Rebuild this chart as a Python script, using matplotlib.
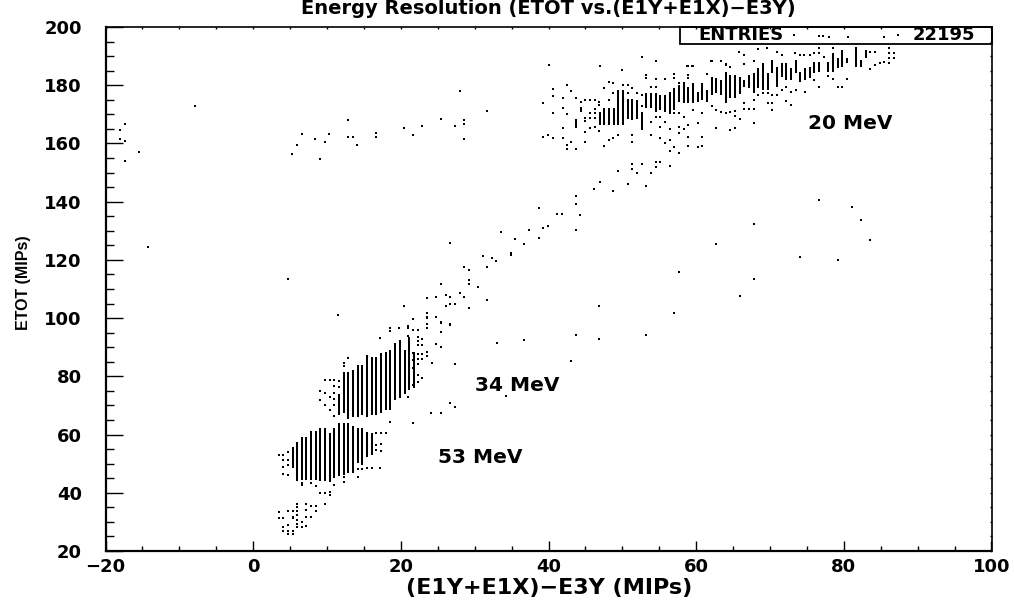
# Energy resolution scatter, ETOT vs (E1Y+E1X)-E3Y
import matplotlib
matplotlib.use('Agg')
import matplotlib.pyplot as plt
from matplotlib.patches import Rectangle
from matplotlib.ticker import MultipleLocator

# Filled columns of the 53 MeV band
low_x  = [5.36, 5.95, 6.58, 7.22, 7.85, 8.48, 9.11, 9.75, 10.38, 11.01, 11.64, 12.27, 12.91, 13.54, 14.17, 14.80, 15.44, 16.07]
low_lo = [48.4, 44.9, 44.4, 44.4, 44.4, 44.4, 44.0, 44.0, 43.8, 45.0, 45.7, 46.1, 46.7, 46.7, 50.1, 49.5, 52.4, 53.0]
low_hi = [55.8, 57.5, 59.3, 59.0, 61.3, 61.3, 62.1, 62.1, 60.6, 62.1, 63.8, 63.8, 63.8, 62.9, 62.1, 62.1, 61.0, 60.4]

# Filled columns of the 34 MeV band
mid_x  = [11.64, 12.27, 12.91, 13.54, 14.17, 14.80, 15.44, 16.07, 16.70, 17.33, 17.97, 18.60, 19.23, 19.86, 20.50, 21.13, 21.76]
mid_lo = [66.7, 67.3, 65.5, 66.1, 66.1, 66.7, 66.1, 66.7, 66.7, 67.3, 68.4, 68.4, 71.8, 72.4, 74.1, 75.3, 75.9]
mid_hi = [74.1, 81.6, 81.6, 82.2, 83.9, 83.9, 87.3, 86.5, 86.5, 87.9, 88.5, 89.0, 91.3, 92.5, 89.0, 93.6, 88.5]

# Filled columns of the 20 MeV band
top_x  = [43.75, 44.38, 46.92, 47.55, 48.18, 48.81, 49.44, 50.08, 50.71, 51.34, 51.97, 52.61, 53.24, 53.87, 54.50, 55.14,
          55.77, 56.40, 57.03, 57.67, 58.30, 58.93, 59.56, 60.20, 60.83, 61.46, 62.09, 62.72, 63.36, 63.99, 64.62, 65.25,
          65.88, 66.52, 67.15, 67.78, 68.41, 69.05, 69.68, 70.31, 70.94, 71.58, 72.21, 72.84, 73.47, 74.11, 74.74, 75.37,
          76.00, 76.64, 77.90, 78.53, 79.17, 79.80, 80.43, 81.69, 82.33, 82.96]
top_lo = [165.4, 170.9, 166.3, 166.3, 166.3, 166.3, 166.3, 166.3, 168.3, 168.0, 168.3, 164.6, 172.1, 172.1, 170.9, 171.5,
          170.9, 170.9, 171.5, 174.4, 173.8, 173.8, 173.8, 174.4, 174.9, 174.4, 176.6, 177.2, 176.6, 173.8, 175.5, 175.5,
          177.2, 179.5, 178.9, 177.2, 178.9, 178.4, 178.4, 184.1, 179.5, 182.9, 181.8, 181.8, 184.1, 181.2, 181.8, 182.4,
          184.1, 184.7, 184.7, 184.7, 185.8, 186.4, 187.5, 186.4, 186.4, 189.2]
top_hi = [168.3, 172.6, 170.8, 172.1, 172.1, 172.1, 178.4, 178.4, 175.1, 175.1, 174.9, 170.9, 177.2, 177.2, 177.2, 176.6,
          176.6, 177.8, 178.9, 180.1, 181.2, 179.5, 180.6, 177.8, 180.6, 178.4, 182.9, 182.4, 181.8, 184.7, 183.5, 183.5,
          182.9, 181.8, 183.5, 184.1, 185.8, 187.5, 184.1, 188.7, 186.4, 187.5, 187.5, 185.8, 188.7, 184.7, 185.8, 186.4,
          188.1, 188.1, 188.1, 191.0, 189.2, 192.1, 189.2, 192.7, 188.7, 192.1]

# Single entries, left part and the 160 MeV-ish stray row
stray_x = [-17.4, -18.0, -18.0, -17.4, -15.5, -17.4, -14.2, -7.9, 4.7, 5.3, 5.95, 6.6, 8.4, 9.7, 9.1, 10.3, 12.8, 12.8, 13.5,
           14.1, 16.7, 16.7, 20.4, 21.7, 22.9, 25.4, 27.4, 28.6, 28.6, 28.6, 28.0, 31.7]
stray_y = [166.6, 164.6, 161.4, 160.8, 157.0, 153.9, 124.3, 172.9, 113.6, 156.5, 159.6, 163.4, 161.5, 160.4, 154.5, 163.4,
           167.9, 162.2, 162.2, 159.6, 163.5, 162.2, 165.4, 162.8, 166.0, 168.5, 166.1, 168.0, 166.8, 161.5, 178.0, 171.0]

# Diagonal track between the bands
track_x = [26.7, 31.1, 32.4, 32.9, 28.5, 29.2, 31.7, 29.2, 29.2, 25.4, 30.4, 23.5, 24.7, 26.1, 26.7, 28.0, 28.6, 38.7, 43.7,
           41.1, 41.8, 44.3, 43.7, 39.9, 39.3, 37.3, 33.6, 35.5, 38.7, 36.7, 34.9, 34.9, 31.7, 29.2, 27.4, 26.7, 26.1, 20.4,
           43.7, 46.2, 46.95, 47.0, 48.7, 49.4, 50.7, 51.3, 51.3, 52.0, 52.6, 53.2, 53.2, 53.9, 54.5, 54.5, 55.1, 56.4]
track_y = [125.8, 121.3, 120.6, 119.7, 117.7, 116.4, 117.7, 113.1, 111.8, 111.8, 110.6, 106.8, 107.4, 108.1, 107.4, 108.6,
           107.4, 137.9, 139.1, 135.9, 135.9, 135.3, 130.4, 131.5, 130.8, 130.3, 129.6, 127.2, 127.4, 125.3, 122.2, 121.7,
           106.2, 103.6, 104.8, 104.8, 104.2, 104.2, 141.9, 144.4, 146.6, 146.6, 143.5, 150.4, 146.0, 151.2, 152.8, 149.7,
           152.8, 145.4, 94.3, 149.7, 153.7, 152.0, 153.5, 152.3]

# Isolated points lower right of the track
far_x = [46.9, 32.96, 36.7, 43.7, 46.9, 43.1, 34.2, 76.7, 81.1, 82.3, 67.8, 83.6, 62.7, 74.1, 79.2, 57.7, 67.8, 65.9, 57.0,
         27.4, 24.15, 25.4, 26.7, 27.3, 21.7, 18.5]
far_y = [104.2, 91.6, 92.4, 94.2, 92.8, 85.4, 73.2, 140.6, 138.1, 133.6, 132.3, 126.7, 125.3, 120.9, 120.0, 115.7, 113.3,
         107.6, 101.9, 84.1, 67.5, 67.5, 70.7, 69.3, 63.8, 64.4]

# Loose points around the 34 MeV band
loose_x = [21.7, 23.5, 23.5, 24.7, 25.4, 26.7, 23.5, 23.5, 25.4, 21.0, 21.7, 22.3, 21.0, 22.3, 22.3, 22.9, 22.9, 22.3, 24.7,
           25.4, 23.5, 22.9, 23.5, 22.9, 22.3, 22.3, 22.3, 24.2, 22.3, 22.9, 22.3, 21.7, 21.0, 11.55, 12.8, 17.2, 18.5, 18.5,
           19.8, 21.0, 21.0, 21.7, 23.6, 23.6, 24.8, 25.5, 26.7, 25.5, 21.7, 21.7, 21.7, 11.01, 11.01, 11.01, 11.01, 11.01,
           11.01, 10.38, 10.38, 10.38, 9.75, 9.75, 9.75, 9.11, 9.11, 11.64, 11.64, 12.27, 12.27]
loose_y = [99.8, 101.6, 100.5, 100.5, 98.6, 97.9, 97.9, 96.6, 95.3, 97.1, 95.9, 95.9, 93.8, 93.4, 92.1, 92.8, 90.9, 90.9, 91.0,
           90.2, 88.3, 87.7, 87.1, 85.8, 87.7, 85.8, 84.2, 84.6, 80.3, 79.5, 78.2, 77.0, 73.0, 101.0, 86.2, 93.3, 96.5, 95.7,
           96.5, 97.3, 96.5, 99.6, 101.6, 100.2, 100.5, 98.4, 97.8, 95.1, 88.0, 85.5, 83.0, 78.6, 76.7, 74.3, 72.1, 70.0,
           66.4, 78.7, 73.0, 68.5, 78.7, 74.4, 70.3, 74.9, 71.8, 76.3, 78.5, 83.5, 84.6]

# Loose points around the 53 MeV band and the low blob
base_x = [3.5, 4.1, 4.1, 4.1, 4.1, 4.7, 4.7, 4.7, 4.7, 17.2, 16.1, 15.4, 14.8, 14.2, 14.2, 12.3, 12.3, 11.0, 10.4, 10.4, 9.75,
          9.1, 8.5, 7.85, 6.6, 6.6, 5.95, 9.75, 3.5, 3.5, 4.1, 4.7, 5.4, 5.95, 5.95, 5.95, 5.95, 5.95, 5.95, 5.95, 5.4, 5.4, 7.2,
          7.2, 7.85, 8.5, 8.5, 7.2, 7.85, 6.6, 6.6, 7.2, 4.7, 4.1, 4.1, 4.7, 5.4, 5.4, 4.7, 16.7, 17.33, 17.33, 17.97, 16.7,
          16.7, 17.33]
base_y = [53.0, 53.0, 51.2, 49.0, 46.5, 54.1, 51.2, 49.5, 46.1, 48.6, 48.6, 48.4, 48.2, 48.2, 45.5, 43.8, 45.5, 42.7, 40.4, 39.2,
          39.8, 40.0, 42.3, 43.2, 43.5, 42.6, 44.4, 36.0, 33.3, 31.2, 31.2, 33.8, 33.8, 36.1, 35.0, 33.8, 32.3, 30.8, 29.3, 28.3,
          31.8, 31.2, 36.1, 34.0, 35.4, 35.4, 33.8, 31.8, 31.8, 30.1, 28.3, 28.6, 28.9, 28.1, 27.0, 27.0, 27.0, 26.0, 26.0, 60.4,
          60.4, 56.7, 60.4, 56.5, 54.7, 54.3]

# Loose points around the 20 MeV band
halo_x = [40.0, 47.0, 50.0, 54.5, 40.6, 42.5, 43.1, 40.6, 41.9, 43.75, 39.3, 40.6, 41.9, 42.5, 41.9, 44.4, 45.0, 45.65, 46.3, 45.0,
          45.0, 45.65, 45.65, 45.65, 45.0, 46.3, 46.3, 46.3, 46.3, 46.9, 46.9, 46.9, 47.55, 48.2, 48.8, 48.2, 48.8, 50.1, 50.7,
          50.7, 51.3, 52.0, 52.6, 52.6, 53.2, 53.2, 54.5, 55.8, 53.9, 54.5, 57.0, 57.0, 57.7, 58.9, 59.6, 58.9, 58.9, 61.5, 39.96,
          39.3, 40.6, 41.9, 43.1, 45.0, 42.5, 42.5, 43.75, 47.55, 48.2, 48.8, 49.4, 51.3, 51.3, 53.9, 55.1, 55.8, 56.4, 57.0,
          56.4, 57.7, 58.9, 58.9, 60.2, 60.8, 60.8, 57.7, 57.7, 58.3, 58.9, 56.4, 55.1, 53.9, 54.5, 55.1, 55.8, 56.4, 57.0, 57.7,
          58.3, 59.6, 60.2, 60.8, 52.6, 58.8, 59.5, 62.05, 63.3, 64.0, 65.8, 66.5, 68.4, 69.6, 70.9, 76.6]
halo_y = [186.9, 186.5, 185.1, 188.3, 178.7, 180.1, 178.1, 176.3, 175.5, 175.5, 173.8, 170.6, 172.3, 170.0, 165.4, 174.4, 174.9,
          174.9, 174.9, 168.6, 167.7, 170.3, 168.6, 165.2, 164.0, 172.0, 170.3, 168.6, 165.8, 174.4, 173.2, 164.3, 178.9, 181.2,
          180.6, 174.9, 177.2, 180.1, 180.1, 177.2, 178.9, 177.2, 176.6, 173.0, 183.5, 182.4, 182.0, 182.0, 179.5, 179.5, 183.9,
          182.4, 180.6, 186.6, 186.6, 183.5, 182.4, 183.9, 162.9, 162.1, 161.8, 161.8, 160.6, 160.6, 159.5, 158.0, 158.0, 159.2,
          161.2, 161.8, 162.9, 162.9, 160.6, 162.9, 161.8, 160.0, 161.2, 158.7, 157.5, 156.8, 162.3, 159.1, 158.7, 162.3, 159.2,
          163.7, 165.8, 165.0, 166.3, 165.0, 165.8, 167.5, 169.2, 169.0, 167.5, 170.6, 170.6, 170.6, 169.2, 171.5, 166.9, 170.6,
          189.6, 186.6, 186.6, 188.3, 188.3, 187.2, 191.5, 190.4, 192.4, 192.9, 191.5, 192.9]

# Loose points at the upper right end
end_x = [73.25, 76.6, 77.2, 78.0, 80.5, 85.5, 87.3, 71.6, 73.4, 74.0, 74.6, 75.4, 76.0, 76.6, 76.6, 77.3, 78.5, 81.7, 81.7, 83.6,
         84.2, 86.1, 86.1, 86.8, 86.1, 86.8, 86.1, 85.5, 84.9, 84.2, 83.6, 76.6, 77.9, 78.5, 80.4, 79.2, 79.8, 76.0, 74.7, 73.5,
         72.8, 72.2, 71.6, 70.9, 70.3, 69.7, 69.0, 68.4, 67.8, 72.2, 72.8, 70.3, 69.7, 70.3, 67.8, 67.15, 66.5, 66.5, 65.25, 65.25,
         65.9, 64.6, 67.8, 65.25, 64.6, 62.7, 64.0, 63.4, 62.7, 62.1, 65.9, 62.1, 63.4, 64.0, 64.6, 66.5, 67.8, 61.4]
end_y = [197.3, 196.9, 196.9, 196.7, 196.4, 196.7, 197.3, 190.4, 191.0, 190.4, 190.4, 190.4, 191.0, 192.7, 191.0, 189.8, 192.7, 192.7,
         191.0, 191.5, 191.5, 192.7, 191.0, 191.0, 189.2, 189.2, 187.5, 188.1, 187.5, 187.0, 185.5, 179.5, 183.0, 182.0, 182.0, 179.5,
         179.5, 181.8, 177.8, 178.4, 177.8, 179.5, 178.4, 176.6, 176.6, 177.2, 177.2, 176.6, 174.9, 174.7, 173.2, 174.0, 174.0, 171.5,
         172.0, 172.0, 172.0, 173.8, 171.0, 169.4, 168.3, 170.7, 166.9, 165.2, 164.6, 165.2, 170.3, 170.7, 171.5, 172.9, 177.2, 188.4,
         188.4, 187.0, 186.4, 187.2, 188.4, 184.0]

x_ticks = [-20, 0, 20, 40, 60, 80, 100]
y_ticks = [20, 40, 60, 80, 100, 120, 140, 160, 180, 200]

# Figure and axes, placed to the pixel
fig = plt.figure(figsize=(10.14, 6.01), dpi=100)
ax = fig.add_axes([105.5 / 1014, 1 - 551 / 601, 886 / 1014, 524 / 601])
ax.set_xlim(-20, 100)
ax.set_ylim(20, 200)

# Dense bands
for xs, lo, hi in [(low_x, low_lo, low_hi), (mid_x, mid_lo, mid_hi), (top_x, top_lo, top_hi)]:
    ax.vlines(xs, lo, hi, color='black', linewidth=1.45)

# Single points
for xs, ys in [(stray_x, stray_y), (track_x, track_y), (far_x, far_y), (loose_x, loose_y),
               (base_x, base_y), (halo_x, halo_y), (end_x, end_y)]:
    ax.plot(xs, ys, linestyle='none', marker='s', markersize=1.6, markeredgewidth=0, color='black', zorder=3)

# Axis frame and ticks
for side in ['left', 'bottom']:
    ax.spines[side].set_linewidth(1.6)
for side in ['top', 'right']:
    ax.spines[side].set_linewidth(1.2)
ax.xaxis.set_minor_locator(MultipleLocator(5))
ax.yaxis.set_minor_locator(MultipleLocator(5))
ax.set_xticks(x_ticks)
ax.set_yticks(y_ticks)
ax.tick_params(axis='x', which='major', direction='in', length=7, width=1, top=True, labelsize=13, pad=5)
ax.tick_params(axis='x', which='minor', direction='in', length=3.5, width=1, top=True)
ax.tick_params(axis='y', which='major', direction='in', length=12, width=1, right=True, labelsize=13, pad=17)
ax.tick_params(axis='y', which='minor', direction='in', length=6, width=1, right=True)
ax.tick_params(axis='x', which='both', labeltop=False)
for lab in ax.get_xticklabels() + ax.get_yticklabels():
    lab.set_fontweight('bold')
for tick in ax.xaxis.get_major_ticks() + ax.xaxis.get_minor_ticks():
    tick.tick2line.set_markersize(1.5)
for tick in ax.yaxis.get_major_ticks() + ax.yaxis.get_minor_ticks():
    tick.tick2line.set_markersize(1.5)

# Titles
fig.text(548 / 1014, 1 - 9 / 601, 'Energy Resolution (ETOT vs.(E1Y+E1X)\u2212E3Y)', ha='center', va='center',
         fontsize=14, fontweight='bold')
fig.text(549 / 1014, 1 - 588 / 601, '(E1Y+E1X)\u2212E3Y (MIPs)', ha='center', va='center', fontsize=16, fontweight='bold')
fig.text(24 / 1014, 1 - 283 / 601, 'ETOT (MIPs)', ha='center', va='center', rotation=90, fontsize=11.5,
         family=['Liberation Sans Narrow', 'Liberation Sans'], fontweight='bold')

# Statistics box
ax.add_patch(Rectangle((0.6484, 0.9676), 0.3516, 0.0324, transform=ax.transAxes, fill=False, edgecolor='black',
                       linewidth=1.3, zorder=4, clip_on=False))
ax.text(0.669, 0.984, 'ENTRIES', transform=ax.transAxes, ha='left', va='center', fontsize=13, fontweight='bold')
ax.text(0.981, 0.984, '22195', transform=ax.transAxes, ha='right', va='center', fontsize=13, fontweight='bold')

# Beam energy labels
ax.text(75.2, 167, '20 MeV', ha='left', va='center', fontsize=14.5, fontweight='bold')
ax.text(30.1, 76.7, '34 MeV', ha='left', va='center', fontsize=14.5, fontweight='bold')
ax.text(25.1, 52, '53 MeV', ha='left', va='center', fontsize=14.5, fontweight='bold')

plt.savefig('out.png', dpi=100)
